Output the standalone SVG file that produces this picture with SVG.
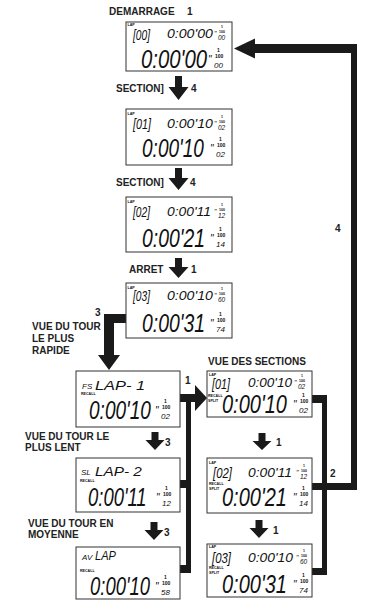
<svg xmlns="http://www.w3.org/2000/svg" width="374" height="602" viewBox="0 0 374 602">
<style>
.lbl{font-family:"Liberation Sans",Arial,sans-serif;font-weight:bold;font-size:10px;fill:#222}
.box{fill:#fff;stroke:#333;stroke-width:1}
.d{font-family:"Liberation Sans",Arial,sans-serif;font-style:italic;fill:#111}
.t{font-family:"Liberation Sans",Arial,sans-serif;font-weight:bold;font-style:normal;font-size:3.6px;fill:#111}
.s35{font-size:3.5px}.s5{font-size:5px}.s65{font-size:6.5px}.s7{font-size:7px}.s8{font-size:8px}.s10{font-size:10px}
.up{font-size:12.5px}.br{font-size:14px}.big{font-size:25px}.lap{font-size:13px}
.k{fill:#1a1a1a}
</style>
<rect width="374" height="602" fill="#fff"/>

<g id="labels">
<text class="lbl" x="109" y="15">DEMARRAGE</text><text class="lbl" x="187" y="15">1</text>
<text class="lbl" x="116" y="92">SECTION]</text><text class="lbl" x="191" y="92">4</text>
<text class="lbl" x="116" y="186">SECTION]</text><text class="lbl" x="190" y="186">4</text>
<text class="lbl" x="129" y="273">ARRET</text><text class="lbl" x="191" y="273">1</text>
<text class="lbl" x="95" y="316">3</text>
<text class="lbl" x="32" y="330">VUE DU TOUR</text>
<text class="lbl" x="32" y="342">LE PLUS</text>
<text class="lbl" x="32" y="354">RAPIDE</text>
<text class="lbl" x="185" y="384">1</text>
<text class="lbl" x="208" y="365">VUE DES SECTIONS</text>
<text class="lbl" x="25" y="440">VUE DU TOUR LE</text>
<text class="lbl" x="25" y="451">PLUS LENT</text>
<text class="lbl" x="165" y="446">3</text>
<text class="lbl" x="276" y="446">1</text>
<text class="lbl" x="28" y="527">VUE DU TOUR EN</text>
<text class="lbl" x="28" y="538">MOYENNE</text>
<text class="lbl" x="164" y="536">3</text>
<text class="lbl" x="273" y="534">1</text>
<text class="lbl" x="335" y="232">4</text>
<text class="lbl" x="330" y="477">2</text>
</g>

<g id="connectors" class="k">
<path d="M175,76 h7 v11 h6.5 l-10,13 l-10,-13 h6.5 z"/>
<path d="M175,168 h7 v10 h6.5 l-10,12 l-10,-12 h6.5 z"/>
<path d="M175,258 h7 v9 h6.5 l-10,11 l-10,-11 h6.5 z"/>
<path d="M151.5,432 h7 v8 h6 l-9.5,10 l-9.5,-10 h6 z"/>
<path d="M150.5,522 h7 v8 h6 l-9.5,10 l-9.5,-10 h6 z"/>
<path d="M258.5,433 h7 v8 h6 l-9.5,9 l-9.5,-9 h6 z"/>
<path d="M255.5,520 h7 v8 h6 l-9.5,10 l-9.5,-10 h6 z"/>
<path d="M104,314 h22 v9 h-12 v32 h6 l-11,15 l-11,-15 h6 z"/>
<rect x="186" y="394" width="5" height="179"/>
<rect x="180" y="394" width="16" height="8"/>
<path d="M195,385 L207,398 L195,411 z"/>
<rect x="180" y="480" width="11" height="8"/>
<rect x="180" y="565" width="11" height="8"/>
<rect x="322" y="395" width="5" height="180"/>
<rect x="312" y="395" width="15" height="8"/>
<rect x="312" y="568" width="15" height="7"/>
<rect x="312" y="483" width="45" height="7"/>
<rect x="351" y="44" width="6" height="446"/>
<rect x="253" y="44" width="104" height="9"/>
<path d="M255,38.5 L234,48.5 L255,58.5 z"/>
</g>

<g id="n1">
<rect class="box" x="126" y="22" width="106" height="49"/>
<text class="t" x="127.5" y="26.3">LAP</text>
<text class="d br" transform="translate(133,40) scale(0.727,1)">[00]</text>
<text class="d up" transform="translate(167,38) scale(1.13,1)">0:00'00</text>
<text class="d" transform="translate(214,37)"><tspan class="s7" x="0" y="-1">"</tspan><tspan class="t s35" x="7" y="-9">1</tspan><tspan class="t s35" x="5" y="-4.5">100</tspan><tspan class="s65" x="4" y="3">00</tspan></text>
<text class="d big" transform="translate(141,68) scale(0.813,1)">0:00'00</text>
<text class="d" transform="translate(208,68)"><tspan class="s10" x="0" y="-5">"</tspan><tspan class="t s5" x="9" y="-16">1</tspan><tspan class="t s5" x="7" y="-10">100</tspan><tspan class="s8" x="6" y="0">00</tspan></text>
</g>

<g id="n2">
<rect class="box" x="126" y="109" width="106" height="56"/>
<text class="t" x="127.5" y="114.5">LAP</text>
<text class="d br" transform="translate(133,129) scale(0.77,1)">[01]</text>
<text class="d up" transform="translate(167,128) scale(1.13,1)">0:00'10</text>
<text class="d" transform="translate(214,127)"><tspan class="s7" x="0" y="-1">"</tspan><tspan class="t s35" x="7" y="-9">1</tspan><tspan class="t s35" x="5" y="-4.5">100</tspan><tspan class="s65" x="4" y="3">02</tspan></text>
<text class="d big" transform="translate(142,157) scale(0.763,1)">0:00'10</text>
<text class="d" transform="translate(210,157)"><tspan class="s10" x="0" y="-5">"</tspan><tspan class="t s5" x="9" y="-16">1</tspan><tspan class="t s5" x="7" y="-10">100</tspan><tspan class="s8" x="6" y="0">02</tspan></text>
</g>

<g id="n3">
<rect class="box" x="126" y="197" width="106" height="55"/>
<text class="t" x="127.5" y="202.5">LAP</text>
<text class="d br" transform="translate(133,217) scale(0.727,1)">[02]</text>
<text class="d up" transform="translate(167,216) scale(1.108,1)">0:00'11</text>
<text class="d" transform="translate(214,215)"><tspan class="s7" x="0" y="-1">"</tspan><tspan class="t s35" x="7" y="-9">1</tspan><tspan class="t s35" x="5" y="-4.5">100</tspan><tspan class="s65" x="4" y="3">12</tspan></text>
<text class="d big" transform="translate(142,247) scale(0.776,1)">0:00'21</text>
<text class="d" transform="translate(210,247)"><tspan class="s10" x="0" y="-5">"</tspan><tspan class="t s5" x="9" y="-16">1</tspan><tspan class="t s5" x="7" y="-10">100</tspan><tspan class="s8" x="6" y="0">14</tspan></text>
</g>

<g id="n4">
<rect class="box" x="126" y="283" width="106" height="55"/>
<text class="t" x="127.5" y="288.5">LAP</text>
<text class="d br" transform="translate(133,301) scale(0.727,1)">[03]</text>
<text class="d up" transform="translate(167,300) scale(1.13,1)">0:00'10</text>
<text class="d" transform="translate(214,299)"><tspan class="s7" x="0" y="-1">"</tspan><tspan class="t s35" x="7" y="-9">1</tspan><tspan class="t s35" x="5" y="-4.5">100</tspan><tspan class="s65" x="4" y="3">60</tspan></text>
<text class="d big" transform="translate(142,332) scale(0.776,1)">0:00'31</text>
<text class="d" transform="translate(210,332)"><tspan class="s10" x="0" y="-5">"</tspan><tspan class="t s5" x="9" y="-16">1</tspan><tspan class="t s5" x="7" y="-10">100</tspan><tspan class="s8" x="6" y="0">74</tspan></text>
</g>

<g id="n5">
<rect class="box" x="76" y="371" width="104" height="56"/>
<text class="d s8" x="82" y="389">FS</text>
<text class="d lap" transform="translate(95,390) scale(1.26,1)">LAP- 1</text>
<text class="t" x="81" y="395">RECALL</text>
<text class="d big" transform="translate(89,419) scale(0.763,1)">0:00'10</text>
<text class="d" transform="translate(155,419)"><tspan class="s10" x="0" y="-5">"</tspan><tspan class="t s5" x="9" y="-16">1</tspan><tspan class="t s5" x="7" y="-10">100</tspan><tspan class="s8" x="6" y="0">02</tspan></text>
</g>

<g id="n6">
<rect class="box" x="76" y="458" width="104" height="54"/>
<text class="d s8" x="81" y="475">SL</text>
<text class="d lap" transform="translate(95,476) scale(1.18,1)">LAP- 2</text>
<text class="t" x="80" y="482">RECALL</text>
<text class="d big" transform="translate(88,506) scale(0.739,1)">0:00'11</text>
<text class="d" transform="translate(156,506)"><tspan class="s10" x="0" y="-5">"</tspan><tspan class="t s5" x="9" y="-16">1</tspan><tspan class="t s5" x="7" y="-10">100</tspan><tspan class="s8" x="6" y="0">12</tspan></text>
</g>

<g id="n7">
<rect class="box" x="76" y="547" width="104" height="52"/>
<text class="d s8" x="82" y="560">AV</text>
<text class="d lap" transform="translate(95,560) scale(0.85,1)">LAP</text>
<text class="t" x="80" y="572">RECALL</text>
<text class="d big" transform="translate(90,595) scale(0.739,1)">0:00'10</text>
<text class="d" transform="translate(155,595)"><tspan class="s10" x="0" y="-5">"</tspan><tspan class="t s5" x="9" y="-16">1</tspan><tspan class="t s5" x="7" y="-10">100</tspan><tspan class="s8" x="6" y="0">58</tspan></text>
</g>

<g id="n8">
<rect class="box" x="207" y="371" width="105" height="46"/>
<text class="t" x="209" y="376">LAP</text>
<text class="d br" transform="translate(212,389) scale(0.77,1)">[01]</text>
<text class="d up" transform="translate(248,387) scale(1.084,1)">0:00'10</text>
<text class="d" transform="translate(294,386)"><tspan class="s7" x="0" y="-1">"</tspan><tspan class="t s35" x="7" y="-9">1</tspan><tspan class="t s35" x="5" y="-4.5">100</tspan><tspan class="s65" x="4" y="3">02</tspan></text>
<text class="t" x="208" y="397">RECALL</text>
<text class="t" x="208" y="402">SPLIT</text>
<text class="d big" transform="translate(222,413) scale(0.8,1)">0:00'10</text>
<text class="d" transform="translate(293,413)"><tspan class="s10" x="0" y="-5">"</tspan><tspan class="t s5" x="9" y="-16">1</tspan><tspan class="t s5" x="7" y="-10">100</tspan><tspan class="s8" x="6" y="0">02</tspan></text>
</g>

<g id="n9">
<rect class="box" x="207" y="458" width="105" height="55"/>
<text class="t" x="209" y="464">LAP</text>
<text class="d br" transform="translate(213,478) scale(0.81,1)">[02]</text>
<text class="d up" transform="translate(248,477) scale(1.108,1)">0:00'11</text>
<text class="d" transform="translate(296,476)"><tspan class="s7" x="0" y="-1">"</tspan><tspan class="t s35" x="7" y="-9">1</tspan><tspan class="t s35" x="5" y="-4.5">100</tspan><tspan class="s65" x="4" y="3">12</tspan></text>
<text class="t" x="209" y="485">RECALL</text>
<text class="t" x="209" y="490">SPLIT</text>
<text class="d big" transform="translate(222,506) scale(0.8,1)">0:00'21</text>
<text class="d" transform="translate(293,506)"><tspan class="s10" x="0" y="-5">"</tspan><tspan class="t s5" x="9" y="-16">1</tspan><tspan class="t s5" x="7" y="-10">100</tspan><tspan class="s8" x="6" y="0">14</tspan></text>
</g>

<g id="n10">
<rect class="box" x="207" y="544" width="105" height="53"/>
<text class="t" x="209" y="548">LAP</text>
<text class="d br" transform="translate(212,562.5) scale(0.81,1)">[03]</text>
<text class="d up" transform="translate(248,562) scale(1.108,1)">0:00'10</text>
<text class="d" transform="translate(296,561)"><tspan class="s7" x="0" y="-1">"</tspan><tspan class="t s35" x="7" y="-9">1</tspan><tspan class="t s35" x="5" y="-4.5">100</tspan><tspan class="s65" x="4" y="3">60</tspan></text>
<text class="t" x="209" y="569">RECALL</text>
<text class="t" x="209" y="574">SPLIT</text>
<text class="d big" transform="translate(222,593) scale(0.8,1)">0:00'31</text>
<text class="d" transform="translate(293,593)"><tspan class="s10" x="0" y="-5">"</tspan><tspan class="t s5" x="9" y="-16">1</tspan><tspan class="t s5" x="7" y="-10">100</tspan><tspan class="s8" x="6" y="0">74</tspan></text>
</g>
</svg>
